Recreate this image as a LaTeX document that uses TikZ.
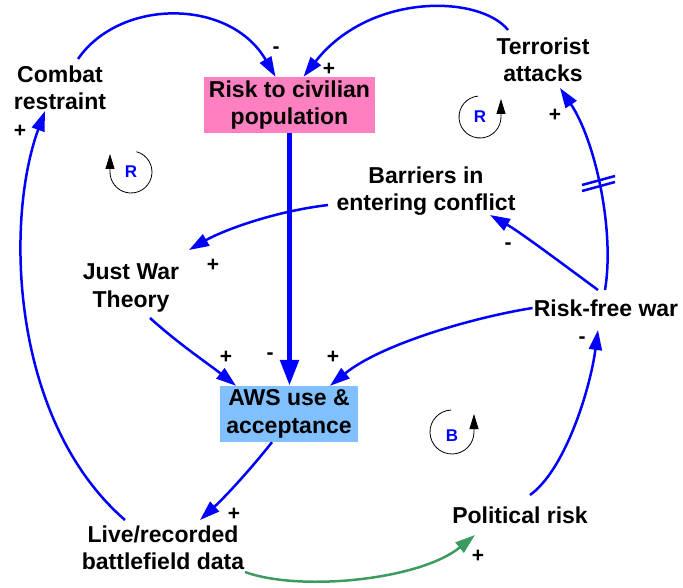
\documentclass[tikz,border=0pt]{standalone}
\usepackage{fontspec}
\setmainfont{Liberation Sans}
\usetikzlibrary{arrows.meta,calc}
\definecolor{pinkc}{RGB}{255,128,192}
\definecolor{bluec}{RGB}{128,192,255}
\definecolor{greenc}{RGB}{60,155,95}
\begin{document}
\begin{tikzpicture}[x=1pt,y=1pt,
  var/.style={font=\bfseries\fontsize{23}{27.5}\selectfont, align=center, inner sep=1pt},
  box/.style={var, minimum height=56pt},
  link/.style={draw=blue, line width=2.5pt, -{Triangle[length=20pt,width=13pt]}},
  thicklink/.style={draw=blue, line width=5.5pt, -{Triangle[length=26pt,width=18pt]}},
  greenlink/.style={draw=greenc, line width=2.5pt, -{Triangle[length=20pt,width=13pt]}},
  sgn/.style={font=\bfseries\fontsize{21}{22}\selectfont, inner sep=0pt},
  loopl/.style={font=\bfseries\fontsize{17}{20}\selectfont, text=blue, inner sep=0pt},
  loopa/.style={draw=black, line width=0.8pt, -{Triangle[length=15pt,width=9pt]}},
  delay/.style={draw=blue, line width=2.5pt}
]
\useasboundingbox (0,0) rectangle (683,-588);

% variables
\node[var] (combat) at (60,-88) {Combat\\restraint};
\node[box, fill=pinkc, minimum width=171pt] (risk) at (289.5,-105) {Risk to civilian\\population};
\node[var] (terror) at (543,-60) {Terrorist\\attacks};
\node[var] (barriers) at (426,-191) {Barriers in\\entering conflict};
\node[var] (justwar) at (131,-288) {Just War\\Theory};
\node[var] (riskfree) at (606,-308) {Risk-free war};
\node[box, fill=bluec, minimum width=138pt] (aws) at (289,-414) {AWS use \&\\acceptance};
\node[var] (live) at (163,-548) {Live/recorded\\battlefield data};
\node[var] (pol) at (520,-515) {Political risk};

% connectors
\draw[link] ($(combat)+(18,29)$) .. controls (120,2) and (230,2) .. ($(risk.north)+(-14,0)$);
\draw[link] ($(terror)+(-35,30)$) .. controls (480,5) and (370,8) .. ($(risk.north)+(14,0)$);
\draw[thicklink] (risk.south) -- (risk.south |- aws.north);
\draw[link] ($(barriers)+(-98,-14)$) .. controls (270,-212) and (220,-232) .. ($(justwar)+(58,38)$);
\draw[link] ($(justwar)+(19,-30)$) .. controls (180,-345) and (210,-365) .. ($(aws.north)+(-53,0)$);
\draw[link] (riskfree.west) .. controls (470,-318) and (380,-345) .. ($(aws.north)+(41,0)$);
\draw[link] ($(riskfree)+(-8,18)$) .. controls (560,-262) and (520,-232) .. ($(barriers)+(64,-24)$);
\draw[link] ($(riskfree)+(-1,18)$) .. controls (615,-230) and (595,-140) .. ($(terror)+(17,-28)$);
\draw[delay] (582,-185) -- (615,-176);
\draw[delay] (582,-191) -- (615,-182);
\draw[link] ($(aws.south)+(-17,0)$) .. controls (250,-470) and (225,-497) .. ($(live)+(37,28)$);
\draw[link] ($(live)+(-38,28)$) .. controls (10,-420) and (5,-220) .. ($(combat)+(-15,-23)$);
\draw[greenlink] ($(live)+(82,-24)$) .. controls (300,-592) and (420,-580) .. ($(pol)+(-45,-20)$);
\draw[link] ($(pol)+(10,20)$) .. controls (565,-470) and (590,-390) .. ($(riskfree)+(-8,-22)$);

% polarity signs
\node[sgn] (s1) at (276,-50) {-};
\node[sgn] (s2) at (329,-69) {+};
\node[sgn] (s3) at (20,-131) {+};
\node[sgn] (s4) at (555,-115) {+};
\node[sgn] (s5) at (508,-246) {-};
\node[sgn] (s6) at (213,-265) {+};
\node[sgn] (s7) at (226,-357) {+};
\node[sgn] (s8) at (270,-356) {-};
\node[sgn] (s9) at (333,-357) {+};
\node[sgn] (s10) at (582,-340) {-};
\node[sgn] (s11) at (234,-514) {+};
\node[sgn] (s12) at (478,-556) {+};

% loop markers
\coordinate (L1) at (131,-172);
\draw[loopa] ($(L1)+(75:21)$) arc[start angle=75,end angle=-180,radius=21] -- ++(0,18);
\node[loopl] (r1) at (L1) {R};
\coordinate (L2) at (480,-117);
\draw[loopa] ($(L2)+(95:21)$) arc[start angle=95,end angle=360,radius=21] -- ++(0,18);
\node[loopl] (r2) at (L2) {R};
\coordinate (L3) at (452,-432);
\draw[loopa] ($(L3)+(92:22)$) arc[start angle=92,end angle=360,radius=22] -- ++(0,18);
\node[loopl] (b1) at ($(L3)+(0,-4)$) {B};
\end{tikzpicture}
\end{document}
